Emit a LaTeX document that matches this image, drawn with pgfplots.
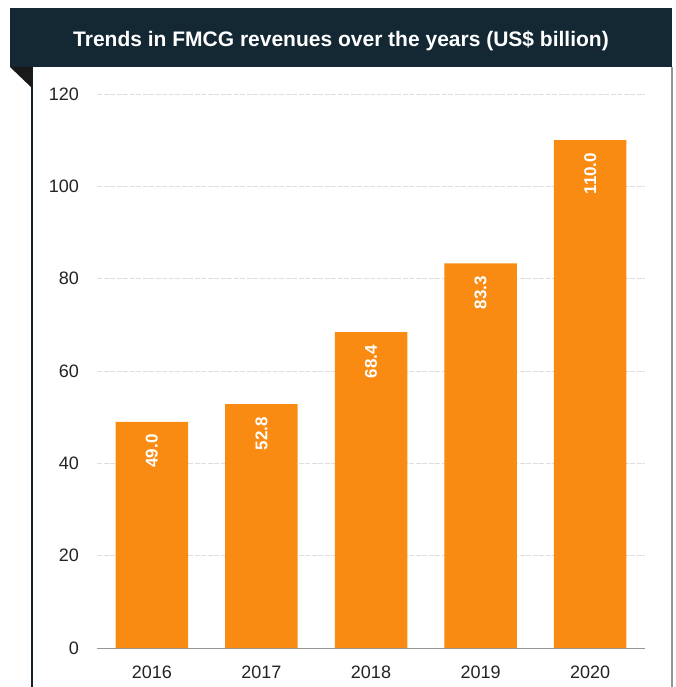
\documentclass[border=0pt]{standalone}
\usepackage{pgfplots}
\pgfplotsset{compat=1.18}
\usepackage{fontspec}
\setmainfont{Liberation Sans}
\definecolor{banner}{RGB}{19,40,51}
\definecolor{barorange}{RGB}{250,139,18}
\definecolor{gridgray}{RGB}{222,222,222}
\definecolor{axgray}{RGB}{150,150,150}
\definecolor{ticktext}{RGB}{35,35,35}
\begin{document}
\begin{tikzpicture}[x=1pt,y=1pt]
\useasboundingbox (0,0) rectangle (675,687);
\fill[white] (0,0) rectangle (675,687);
% box borders
\draw[line width=1.6pt, color=banner!80!black] (32,620) -- (32,0);
\draw[line width=1.6pt, color=axgray] (672,620) -- (672,0);
% banner
\fill[banner] (10,620) rectangle (672,679);
\fill[black!90] (10,620) -- (32,620) -- (32,599) -- cycle;
\node[text=white, font=\bfseries\fontsize{21}{24}\selectfont] at (341,646) {Trends in FMCG revenues over the years (US\$ billion)};
\begin{axis}[
  at={(97pt,39pt)}, anchor=south west,
  scale only axis, width=548pt, height=554pt,
  ymin=0, ymax=120, ytick={0,20,...,120},
  xmin=-0.5, xmax=4.5,
  axis x line=bottom, axis y line=left,
  x axis line style={-, draw=axgray, line width=0.8pt},
  y axis line style={draw=none},
  ymajorgrids, grid style={gridgray, dash pattern=on 5pt off 1.5pt, line width=0.8pt},
  ytick style={draw=none},
  xtick={0,1,2,3,4}, xticklabels={2016,2017,2018,2019,2020},
  xtick style={draw=none},
  extra x ticks={-0.5,0.5,1.5,2.5,3.5,4.5}, extra x tick labels={},
  extra x tick style={tick style={draw=axgray, line width=0.8pt}, major tick length=7pt, tick align=outside, grid=none},
  ticklabel style={font=\fontsize{18}{21}\selectfont, text=ticktext},
  yticklabel style={xshift=-12.5pt},
  xticklabel style={yshift=-10pt},
  /pgf/number format/assume math mode=true,
  ybar, bar width=72.5pt, bar shift=0pt,
  nodes near coords,
  nodes near coords style={/pgf/number format/fixed, /pgf/number format/fixed zerofill, /pgf/number format/precision=1},
  every node near coord/.append style={yshift=-12.5pt, rotate=90, anchor=east, inner sep=0pt, text=white, font=\bfseries\fontsize{17}{20}\selectfont},
]
\addplot[fill=barorange, draw=none] coordinates {(0,49.0) (1,52.8) (2,68.4) (3,83.3) (4,110.0)};
\end{axis}
\end{tikzpicture}
\end{document}
